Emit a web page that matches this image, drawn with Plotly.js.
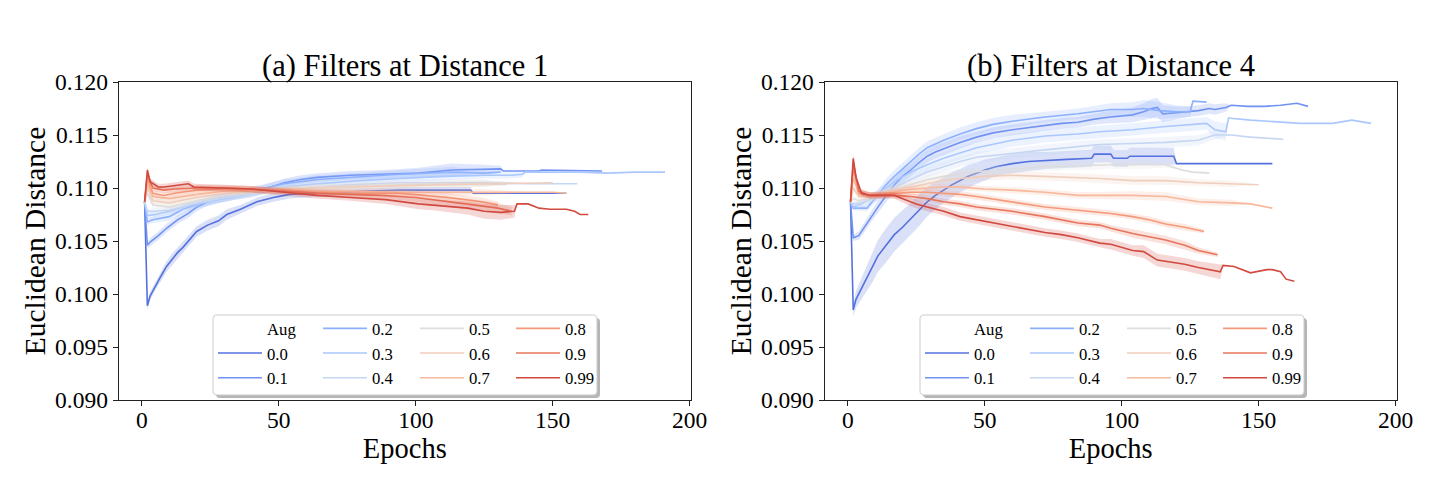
<!DOCTYPE html>
<html><head><meta charset="utf-8">
<script src="https://cdn.plot.ly/plotly-3.0.1.min.js"></script>
<style>html,body{margin:0;padding:0;background:#fff;}#chart{width:1440px;height:504px;}</style>
</head><body><div id="chart"></div>
<script>
// ---------- Data: Aug levels and colours ----------
const augLabels = ['0.0','0.1','0.2','0.3','0.4','0.5','0.6','0.7','0.8','0.9','0.99'];
const augColors = [[84,113,222],[112,146,243],[141,176,254],[170,199,254],[197,214,242],[221,221,221],[239,206,188],[247,184,156],[244,154,123],[231,117,92],[210,74,63]];
const xTicks = [0,50,100,150,200];

// ---------- Panel (a): Filters at Distance 1 ----------
const epA00=[1,2,3,5,7,9,11,13,15,17,20,24,28,31,36,42,48,54,60,70,80,94,120,121,155];
const valA00=[0.1087,0.0989,0.0998,0.1008,0.1017,0.1026,0.1033,0.1039,0.1044,0.1050,0.1059,0.1065,0.1069,0.1075,0.1080,0.1087,0.1091,0.1094,0.1095,0.1096,0.1097,0.1098,0.1098,0.1095,0.1095];
const sdA00=[0,0.0004,0.0004,0.0004,0.0005,0.0005,0.0005,0.0005,0.0005,0.0005,0.0005,0.0005,0.0005,0.0005,0.0004,0.0004,0.0004,0.0004,0.0004,0.0003,0.0003,0.0003,0.0003,0,0];

const epA01=[1,2,3,6,9,13,17,20,24,28,34,40,46,52,58,64,76,89,101,113,125,131,132,145,146,168];
const valA01=[0.1087,0.1046,0.1049,0.1055,0.1062,0.1070,0.1076,0.1082,0.1087,0.1090,0.1093,0.1095,0.1100,0.1105,0.1108,0.1110,0.1112,0.1113,0.1114,0.1117,0.1118,0.1118,0.1116,0.1116,0.1117,0.1116];
const sdA01=[0,0.0003,0.0004,0.0004,0.0004,0.0004,0.0004,0.0004,0.0004,0.0004,0.0004,0.0004,0.0004,0.0004,0.0004,0.0004,0.0004,0.0004,0.0005,0.0006,0.0004,0.0003,0,0,0,0];

const epA02=[1,2,4,10,15,22,28,40,52,64,76,94,113,125,131];
const valA02=[0.1087,0.1068,0.1070,0.1073,0.1080,0.1086,0.1090,0.1097,0.1104,0.1108,0.1110,0.1113,0.1115,0.1114,0.1115];
const sdA02=[0,0.0003,0.0003,0.0004,0.0004,0.0004,0.0004,0.0004,0.0004,0.0004,0.0004,0.0004,0.0005,0.0003,0];

const epA03=[1,2,5,10,15,20,30,40,50,60,70,80,94,110,125,135,139,140,150,160,170,180,191];
const valA03=[0.1087,0.1074,0.1075,0.1078,0.1082,0.1085,0.1090,0.1095,0.1100,0.1103,0.1105,0.1107,0.1109,0.1111,0.1112,0.1112,0.1113,0.1115,0.1115,0.1115,0.1114,0.1115,0.1115];
const sdA03=[0,0.0003,0.0003,0.0003,0.0003,0.0003,0.0003,0.0003,0.0003,0.0003,0.0003,0.0003,0.0003,0.0004,0.0003,0.0003,0.0003,0,0,0,0,0,0];

const epA04=[1,2,4,10,20,30,40,52,64,76,94,110,125,140,150,159];
const valA04=[0.1087,0.1078,0.1078,0.1079,0.1086,0.1091,0.1095,0.1099,0.1101,0.1103,0.1105,0.1105,0.1105,0.1104,0.1104,0.1104];
const sdA04=[0,0.0002,0.0003,0.0003,0.0003,0.0003,0.0003,0.0003,0.0003,0.0003,0.0003,0.0003,0.0003,0,0,0];

const epA05=[1,2,4,10,20,30,40,52,64,76,94,110,125,133];
const valA05=[0.1087,0.1095,0.1084,0.1082,0.1088,0.1093,0.1096,0.1099,0.1101,0.1102,0.1103,0.1104,0.1104,0.1103];
const sdA05=[0,0.0002,0.0003,0.0003,0.0003,0.0003,0.0003,0.0003,0.0003,0.0003,0.0003,0.0003,0.0003,0];

const epA06=[1,2,4,10,20,30,40,52,64,76,94,110,125,140,150];
const valA06=[0.1087,0.1100,0.1088,0.1086,0.1091,0.1095,0.1097,0.1099,0.1100,0.1101,0.1102,0.1103,0.1104,0.1105,0.1105];
const sdA06=[0,0.0003,0.0003,0.0003,0.0003,0.0003,0.0003,0.0003,0.0003,0.0003,0.0003,0.0003,0.0003,0,0];

const epA07=[1,2,4,10,20,30,40,52,64,76,94,110,125,140,150,155];
const valA07=[0.1087,0.1104,0.1092,0.1090,0.1094,0.1097,0.1098,0.1098,0.1097,0.1097,0.1096,0.1096,0.1096,0.1096,0.1096,0.1095];
const sdA07=[0,0.0003,0.0003,0.0003,0.0003,0.0003,0.0003,0.0003,0.0003,0.0003,0.0003,0.0003,0.0003,0,0,0];

const epA08=[1,2,4,8,12,20,30,40,52,64,76,94,112,124,130];
const valA08=[0.1087,0.1109,0.1095,0.1093,0.1095,0.1098,0.1099,0.1099,0.1097,0.1096,0.1095,0.1095,0.1091,0.1087,0.1084];
const sdA08=[0,0.0003,0.0003,0.0003,0.0003,0.0003,0.0003,0.0003,0.0003,0.0003,0.0003,0.0003,0.0004,0.0004,0.0003];

const epA09=[1,2,4,8,12,20,30,40,52,64,76,88,100,106,118,130,135];
const valA09=[0.1087,0.1113,0.1100,0.1098,0.1099,0.1100,0.1100,0.1099,0.1097,0.1095,0.1094,0.1093,0.1091,0.1089,0.1085,0.1081,0.1078];
const sdA09=[0,0.0003,0.0003,0.0003,0.0003,0.0003,0.0003,0.0003,0.0003,0.0003,0.0003,0.0003,0.0004,0.0004,0.0005,0.0005,0.0004];

const epA10=[1,2,3,6,8,11,15,17,19,28,34,40,52,64,76,89,101,106,119,125,131,136,137,141,145,149,155,158,160,163];
const valA10=[0.1087,0.1117,0.1106,0.1101,0.1101,0.1102,0.1103,0.1104,0.1101,0.1100,0.1100,0.1099,0.1096,0.1093,0.1091,0.1089,0.1085,0.1084,0.1081,0.1078,0.1077,0.1078,0.1085,0.1085,0.1081,0.1080,0.1080,0.1078,0.1075,0.1075];
const sdA10=[0,0.0003,0.0003,0.0003,0.0003,0.0003,0.0003,0.0003,0.0003,0.0003,0.0003,0.0003,0.0003,0.0003,0.0003,0.0004,0.0005,0.0005,0.0006,0.0007,0.0007,0.0006,0,0,0,0,0,0,0,0];

// ---------- Panel (b): Filters at Distance 4 ----------
const epB00=[1,2,3,5,7,9,11,14,17,20,23,26,29,32,35,38,41,44,47,50,54,60,66,72,80,89,90,96,97,102,103,119,120,155];
const valB00=[0.1087,0.0985,0.0995,0.1005,0.1015,0.1025,0.1036,0.1046,0.1056,0.1063,0.1071,0.1079,0.1087,0.1093,0.1098,0.1103,0.1107,0.1111,0.1114,0.1117,0.1120,0.1123,0.1125,0.1126,0.1127,0.1128,0.1132,0.1132,0.1128,0.1128,0.1130,0.1130,0.1123,0.1123];
const sdB00=[0,0.0006,0.0008,0.0010,0.0012,0.0014,0.0015,0.0016,0.0016,0.0016,0.0015,0.0015,0.0014,0.0013,0.0012,0.0012,0.0011,0.0011,0.0010,0.0010,0.0009,0.0009,0.0009,0.0008,0.0008,0.0008,0.0008,0.0008,0.0008,0.0008,0.0008,0.0008,0,0];

const epB01=[1,2,4,6,8,11,14,17,20,23,26,29,32,35,41,47,53,60,66,72,78,84,90,96,104,108,111,113,115,120,124,128,132,134,138,140,146,152,158,164,168];
const valB01=[0.1087,0.1053,0.1055,0.1063,0.1071,0.1082,0.1093,0.1103,0.1111,0.1117,0.1124,0.1130,0.1134,0.1137,0.1143,0.1148,0.1152,0.1155,0.1157,0.1159,0.1161,0.1162,0.1165,0.1167,0.1169,0.1172,0.1175,0.1176,0.1170,0.1171,0.1172,0.1173,0.1175,0.1174,0.1176,0.1178,0.1177,0.1177,0.1178,0.1180,0.1177];
const sdB01=[0,0.0003,0.0004,0.0005,0.0005,0.0006,0.0006,0.0006,0.0006,0.0006,0.0006,0.0006,0.0006,0.0006,0.0006,0.0005,0.0005,0.0005,0.0005,0.0005,0.0005,0.0005,0.0005,0.0006,0.0007,0.0008,0.0009,0.0009,0.0008,0.0006,0.0005,0.0005,0.0005,0.0005,0.0004,0,0,0,0,0,0];

const epB02=[1,2,7,11,14,17,20,23,26,29,35,41,47,53,60,72,84,96,104,108,114,120,125,126,131];
const valB02=[0.1087,0.1081,0.1081,0.1094,0.1103,0.1111,0.1118,0.1125,0.1132,0.1138,0.1145,0.1151,0.1156,0.1160,0.1163,0.1167,0.1170,0.1174,0.1174,0.1175,0.1173,0.1172,0.1172,0.1182,0.1181];
const sdB02=[0,0.0002,0.0003,0.0005,0.0006,0.0006,0.0006,0.0006,0.0006,0.0006,0.0006,0.0006,0.0006,0.0006,0.0006,0.0005,0.0005,0.0006,0.0007,0.0008,0.0008,0.0006,0.0005,0,0];

const epB03=[1,2,5,11,17,23,29,35,41,47,60,72,84,92,104,116,131,134,138,139,147,153,165,177,184,191];
const valB03=[0.1087,0.1082,0.1085,0.1094,0.1106,0.1115,0.1122,0.1128,0.1133,0.1138,0.1145,0.1149,0.1151,0.1153,0.1155,0.1158,0.1161,0.1155,0.1153,0.1166,0.1164,0.1163,0.1161,0.1161,0.1164,0.1161];
const sdB03=[0,0.0003,0.0004,0.0005,0.0006,0.0006,0.0006,0.0006,0.0006,0.0006,0.0006,0.0006,0.0006,0.0006,0.0006,0.0006,0.0006,0.0008,0.0008,0,0,0,0,0,0,0];

const epB04=[1,2,5,11,17,23,29,35,41,47,60,72,84,92,104,116,128,134,140,147,159];
const valB04=[0.1087,0.1085,0.1086,0.1092,0.1100,0.1108,0.1115,0.1120,0.1125,0.1129,0.1133,0.1136,0.1139,0.1141,0.1142,0.1143,0.1145,0.1150,0.1150,0.1148,0.1146];
const sdB04=[0,0.0002,0.0003,0.0004,0.0005,0.0005,0.0005,0.0005,0.0005,0.0005,0.0005,0.0005,0.0005,0.0005,0.0005,0.0005,0.0005,0.0004,0,0,0];

const epB05=[1,2,4,8,12,17,23,29,35,41,50,60,72,84,96,108,116,122,126,132];
const valB05=[0.1087,0.1090,0.1088,0.1090,0.1094,0.1098,0.1103,0.1108,0.1111,0.1114,0.1116,0.1118,0.1120,0.1121,0.1122,0.1122,0.1122,0.1117,0.1115,0.1114];
const sdB05=[0,0.0002,0.0003,0.0003,0.0004,0.0004,0.0004,0.0004,0.0004,0.0004,0.0004,0.0004,0.0004,0.0004,0.0004,0.0004,0.0003,0,0,0];

const epB06=[1,2,4,8,12,17,23,29,35,41,50,60,72,84,92,104,116,128,140,150];
const valB06=[0.1087,0.1100,0.1092,0.1092,0.1094,0.1098,0.1101,0.1104,0.1107,0.1109,0.1111,0.1112,0.1111,0.1110,0.1109,0.1107,0.1107,0.1105,0.1104,0.1103];
const sdB06=[0,0.0003,0.0003,0.0003,0.0004,0.0004,0.0004,0.0004,0.0004,0.0004,0.0004,0.0004,0.0004,0.0004,0.0004,0.0004,0.0004,0.0003,0.0003,0];

const epB07=[1,2,4,8,12,17,23,29,35,41,50,60,72,84,96,104,116,128,140,147,155];
const valB07=[0.1087,0.1110,0.1094,0.1093,0.1094,0.1096,0.1099,0.1100,0.1101,0.1101,0.1099,0.1098,0.1096,0.1093,0.1093,0.1093,0.1092,0.1087,0.1086,0.1085,0.1081];
const sdB07=[0,0.0004,0.0003,0.0003,0.0003,0.0003,0.0003,0.0003,0.0003,0.0003,0.0003,0.0003,0.0003,0.0003,0.0004,0.0004,0.0004,0.0003,0.0003,0,0];

const epB08=[1,2,4,8,12,17,23,29,35,41,47,60,72,84,92,96,104,110,116,123,130];
const valB08=[0.1087,0.1118,0.1096,0.1093,0.1094,0.1095,0.1096,0.1096,0.1095,0.1094,0.1092,0.1087,0.1082,0.1079,0.1077,0.1076,0.1073,0.1070,0.1066,0.1063,0.1059];
const sdB08=[0,0.0004,0.0003,0.0003,0.0003,0.0003,0.0003,0.0003,0.0003,0.0003,0.0003,0.0003,0.0003,0.0003,0.0003,0.0003,0.0003,0.0003,0.0003,0.0003,0.0002];

const epB09=[1,2,4,8,12,17,23,29,35,41,47,60,72,84,92,96,104,110,116,123,128,135];
const valB09=[0.1087,0.1124,0.1097,0.1093,0.1093,0.1093,0.1092,0.1090,0.1087,0.1085,0.1082,0.1078,0.1073,0.1067,0.1065,0.1062,0.1057,0.1054,0.1051,0.1046,0.1041,0.1037];
const sdB09=[0,0.0004,0.0003,0.0003,0.0003,0.0003,0.0003,0.0003,0.0003,0.0003,0.0003,0.0003,0.0003,0.0003,0.0003,0.0003,0.0004,0.0004,0.0004,0.0004,0.0003,0.0002];

const epB10=[1,2,3,5,8,12,17,21,25,29,35,41,47,53,60,66,72,78,84,92,96,104,108,113,118,123,128,136,137,141,147,153,155,158,160,163];
const valB10=[0.1087,0.1128,0.1110,0.1095,0.1093,0.1093,0.1093,0.1089,0.1085,0.1082,0.1078,0.1073,0.1070,0.1067,0.1064,0.1061,0.1058,0.1056,0.1053,0.1048,0.1047,0.1041,0.1040,0.1032,0.1030,0.1028,0.1025,0.1021,0.1027,0.1026,0.1020,0.1023,0.1023,0.1021,0.1014,0.1012];
const sdB10=[0,0.0004,0.0003,0.0003,0.0003,0.0003,0.0003,0.0004,0.0004,0.0004,0.0004,0.0004,0.0004,0.0004,0.0004,0.0004,0.0004,0.0004,0.0004,0.0004,0.0005,0.0005,0.0006,0.0006,0.0006,0.0006,0.0006,0.0007,0,0,0,0,0,0,0,0];

const panelA = [[epA00,valA00,sdA00],[epA01,valA01,sdA01],[epA02,valA02,sdA02],[epA03,valA03,sdA03],[epA04,valA04,sdA04],[epA05,valA05,sdA05],[epA06,valA06,sdA06],[epA07,valA07,sdA07],[epA08,valA08,sdA08],[epA09,valA09,sdA09],[epA10,valA10,sdA10]];
const panelB = [[epB00,valB00,sdB00],[epB01,valB01,sdB01],[epB02,valB02,sdB02],[epB03,valB03,sdB03],[epB04,valB04,sdB04],[epB05,valB05,sdB05],[epB06,valB06,sdB06],[epB07,valB07,sdB07],[epB08,valB08,sdB08],[epB09,valB09,sdB09],[epB10,valB10,sdB10]];

// ---------- Build ----------
const W = 1440, H = 504;
const FONT = 'Liberation Serif, Times New Roman, serif';
const rgb = (c,a) => a===undefined ? `rgb(${c[0]},${c[1]},${c[2]})` : `rgba(${c[0]},${c[1]},${c[2]},${a})`;
const traces = [];
function addPanel(series, xa, ya, legendNames) {
  traces.push({x:[null], y:[null], mode:'lines', name:'Aug', line:{color:'rgba(0,0,0,0)', width:0},
    xaxis:xa, yaxis:ya, legend:legendNames[0], legendrank:1, hoverinfo:'skip'});
  series.forEach((s,i) => {
    const ep = s[0], val = s[1], sd = s[2];
    const n = Math.min(ep.length, val.length, sd.length);
    const e = ep.slice(0,n), up = [], lo = [];
    for (let k=0;k<n;k++){ up.push(val[k]+sd[k]); lo.push(val[k]-sd[k]); }
    traces.push({x:e.concat(e.slice().reverse()), y:up.concat(lo.slice().reverse()), mode:'lines',
      fill:'toself', fillcolor:rgb(augColors[i],0.22), line:{width:0}, showlegend:false,
      xaxis:xa, yaxis:ya, hoverinfo:'skip'});
    traces.push({x:ep, y:val, mode:'lines', name:augLabels[i], line:{color:rgb(augColors[i]), width:1.6},
      xaxis:xa, yaxis:ya, legend:legendNames[Math.floor((i+1)/3)], legendrank:10+i});
  });
}
addPanel(panelA, 'x', 'y', ['legend','legend2','legend3','legend4']);
addPanel(panelB, 'x2', 'y2', ['legend5','legend6','legend7','legend8']);

function xAxis(d0,d1,anchor){
  return {domain:[d0/W,d1/W], anchor:anchor, range:[-8.5,200.5], tickvals:xTicks, ticktext:xTicks.map(String),
    ticks:'outside', ticklen:5, tickwidth:1, tickcolor:'#222', showline:true, linecolor:'#222', linewidth:1,
    mirror:true, showgrid:false, zeroline:false, tickfont:{family:FONT,size:23.5,color:'#000'}, ticklabelstandoff:-6,
    title:{text:'Epochs', font:{family:FONT,size:28.5,color:'#000'}, standoff:4}, automargin:false};
}
function yAxis(anchor){
  return {domain:[1-400/H, 1-82/H], anchor:anchor, range:[0.090,0.120], dtick:0.005, tick0:0.09, tickformat:'.3f',
    ticks:'outside', ticklen:5, tickwidth:1, tickcolor:'#222', showline:true, linecolor:'#222', linewidth:1,
    mirror:true, showgrid:false, zeroline:false, tickfont:{family:FONT,size:23.5,color:'#000'},
    title:{text:'Euclidean Distance', font:{family:FONT,size:29.5,color:'#000'}, standoff:0}, automargin:false};
}

// legend columns (line-start pixel x for each column)
const legColsA = [218, 323, 420, 516];
const legColsB = legColsA.map(v => v + 707);
const legTop = 311;
const legends = {};
const names = ['legend','legend2','legend3','legend4','legend5','legend6','legend7','legend8'];
legColsA.concat(legColsB).forEach((xp,k) => {
  legends[names[k]] = {x:(xp-5)/W, xanchor:'left', y:1-legTop/H, yanchor:'top', orientation:'v',
    bgcolor:'rgba(0,0,0,0)', borderwidth:0, font:{family:FONT,size:16.7,color:'#000'},
    itemwidth:44, tracegroupgap:0, itemclick:false, itemdoubleclick:false};
});

// legend frame (rounded, with shadow) in paper coords
function roundRect(x0,y0,x1,y1,r){
  const X = v => (v/W).toFixed(5), Y = v => (1-v/H).toFixed(5);
  return `M${X(x0+r)},${Y(y0)} L${X(x1-r)},${Y(y0)} Q${X(x1)},${Y(y0)} ${X(x1)},${Y(y0+r)} L${X(x1)},${Y(y1-r)} Q${X(x1)},${Y(y1)} ${X(x1-r)},${Y(y1)} L${X(x0+r)},${Y(y1)} Q${X(x0)},${Y(y1)} ${X(x0)},${Y(y1-r)} L${X(x0)},${Y(y0+r)} Q${X(x0)},${Y(y0)} ${X(x0+r)},${Y(y0)} Z`;
}
const shapes = [];
[[213,315,597,395],[920,315,1304,395]].forEach(b => {
  shapes.push({type:'path', xref:'paper', yref:'paper', path:roundRect(b[0]+3,b[1]+3,b[2]+3,b[3]+3,4),
    fillcolor:'rgba(90,90,90,0.45)', line:{width:0}, layer:'above'});
  shapes.push({type:'path', xref:'paper', yref:'paper', path:roundRect(b[0],b[1],b[2],b[3],4),
    fillcolor:'#ffffff', line:{color:'#cccccc', width:1}, layer:'above'});
});

const layout = Object.assign({
  width:W, height:H, margin:{l:0,r:0,t:0,b:0}, paper_bgcolor:'#fff', plot_bgcolor:'#fff',
  showlegend:true, font:{family:FONT, color:'#000'},
  xaxis:xAxis(118.6,691,'y'), yaxis:yAxis('x'),
  xaxis2:xAxis(824.5,1397,'y2'), yaxis2:yAxis('x2'),
  shapes:shapes,
  annotations:[
    {text:'(a) Filters at Distance 1', xref:'paper', yref:'paper', x:404.8/W, y:1-66/H, xanchor:'center', yanchor:'middle', showarrow:false, font:{family:FONT,size:30.5,color:'#000'}},
    {text:'(b) Filters at Distance 4', xref:'paper', yref:'paper', x:1110.8/W, y:1-66/H, xanchor:'center', yanchor:'middle', showarrow:false, font:{family:FONT,size:30.5,color:'#000'}}
  ]
}, legends);

Plotly.newPlot('chart', traces, layout, {displayModeBar:false, staticPlot:true});
</script>
</body></html>
